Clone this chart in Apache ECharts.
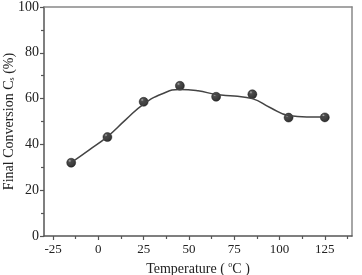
<!DOCTYPE html>
<html>
<head>
<meta charset="utf-8">
<script src="https://cdn.jsdelivr.net/npm/echarts@6/dist/echarts.min.js"></script>
<style>
	html, body { margin: 0; padding: 0; background: #fff; }
	#chart { width: 362px; height: 275px; }
</style>
</head>
<body>
<div id="chart"></div>
<script>
'use strict';
// measured points
var temps = [-15, 5, 25, 45, 65, 85, 105, 125],
		conversion = [32, 43.2, 58.6, 65.6, 60.8, 61.9, 51.7, 51.8];

// fitted curve
var fitTemps = [-15, -5, 5, 15, 25, 35, 45, 55, 65, 75, 85, 95, 105, 115, 125],
		fitValues = [32, 37.6, 43.4, 50.7, 57.6, 62.0, 64.0, 63.4, 61.8, 61.1, 60.0, 56.0, 52.6, 52.0, 52.0];

var xMajorTicks = [-25, 0, 25, 50, 75, 100, 125],
		xMinorTicks = [-12.5, 12.5, 37.5, 62.5, 87.5, 112.5, 137.5];

var axisColor = '#555',
		font = '"Liberation Serif", "DejaVu Serif", serif';

var chart = echarts.init(document.getElementById('chart'));

function pairs(xs, ys) {
	return xs.map(function (x, i) { return [x, ys[i]]; });
}

var ball = new echarts.graphic.RadialGradient(0.35, 0.3, 0.65, [
	{offset: 0, color: '#999'},
	{offset: 0.25, color: '#222'},
	{offset: 1, color: '#000'}
]);

var option = {
	animation: false,
	grid: {left: 44, right: 10, top: 7, bottom: 39, containLabel: false, outerBoundsMode: 'none'},
	xAxis: [
		{
			type: 'value',
			min: -30,
			max: 140,
			position: 'bottom',
			name: 'Temperature ( {sup|o}C )',
			nameLocation: 'middle',
			nameGap: 25,
			nameMoveOverlap: false,
			nameTextStyle: {
				fontFamily: font, fontSize: 14, color: '#222',
				rich: {sup: {fontFamily: font, fontSize: 8, verticalAlign: 'top', padding: [0, 0, 8, 0], color: '#222'}}
			},
			axisLine: {onZero: false, lineStyle: {color: axisColor, width: 1.5}},
			axisTick: {customValues: xMajorTicks, length: 4, lineStyle: {color: axisColor, width: 1.2}},
			axisLabel: {customValues: xMajorTicks, fontFamily: font, fontSize: 13, color: '#222', margin: 7},
			splitLine: {show: false}
		},
		{
			type: 'value',
			min: -30,
			max: 140,
			position: 'bottom',
			axisLine: {show: false, onZero: false},
			axisTick: {customValues: xMinorTicks, length: 3, lineStyle: {color: axisColor, width: 1.2}},
			axisLabel: {show: false},
			splitLine: {show: false}
		},
		{
			type: 'value',
			min: -30,
			max: 140,
			position: 'top',
			axisLine: {onZero: false, lineStyle: {color: '#888', width: 1.5}},
			axisTick: {show: false},
			axisLabel: {show: false},
			splitLine: {show: false}
		}
	],
	yAxis: [
		{
			type: 'value',
			min: 0,
			max: 100,
			interval: 20,
			position: 'left',
			name: 'Final Conversion C{sub|s} (%)',
			nameLocation: 'middle',
			nameGap: 28,
			nameMoveOverlap: false,
			nameTextStyle: {
				fontFamily: font, fontSize: 14, color: '#222',
				rich: {sub: {fontFamily: font, fontSize: 8, verticalAlign: 'bottom', padding: [6, 0, 0, 0], color: '#222'}}
			},
			axisLine: {show: true, onZero: false, lineStyle: {color: axisColor, width: 1.5}},
			axisTick: {show: true, length: 4, lineStyle: {color: axisColor, width: 1.2}},
			minorTick: {show: true, splitNumber: 2, length: 3, lineStyle: {color: axisColor, width: 1.2}},
			axisLabel: {fontFamily: font, fontSize: 14, color: '#222', margin: 5},
			splitLine: {show: false}
		},
		{
			type: 'value',
			min: 0,
			max: 100,
			position: 'right',
			axisLine: {show: true, onZero: false, lineStyle: {color: '#888', width: 1.5}},
			axisTick: {show: false},
			axisLabel: {show: false},
			splitLine: {show: false}
		}
	],
	series: [
		{
			name: 'fit',
			type: 'line',
			data: pairs(fitTemps, fitValues),
			smooth: 0.5,
			showSymbol: false,
			lineStyle: {color: '#444', width: 1.5}
		},
		{
			name: 'measured',
			type: 'scatter',
			data: pairs(temps, conversion),
			symbolSize: 9,
			itemStyle: {color: ball, borderColor: '#000', borderWidth: 0.5}
		}
	]
};

chart.setOption(option);
</script>
</body>
</html>
